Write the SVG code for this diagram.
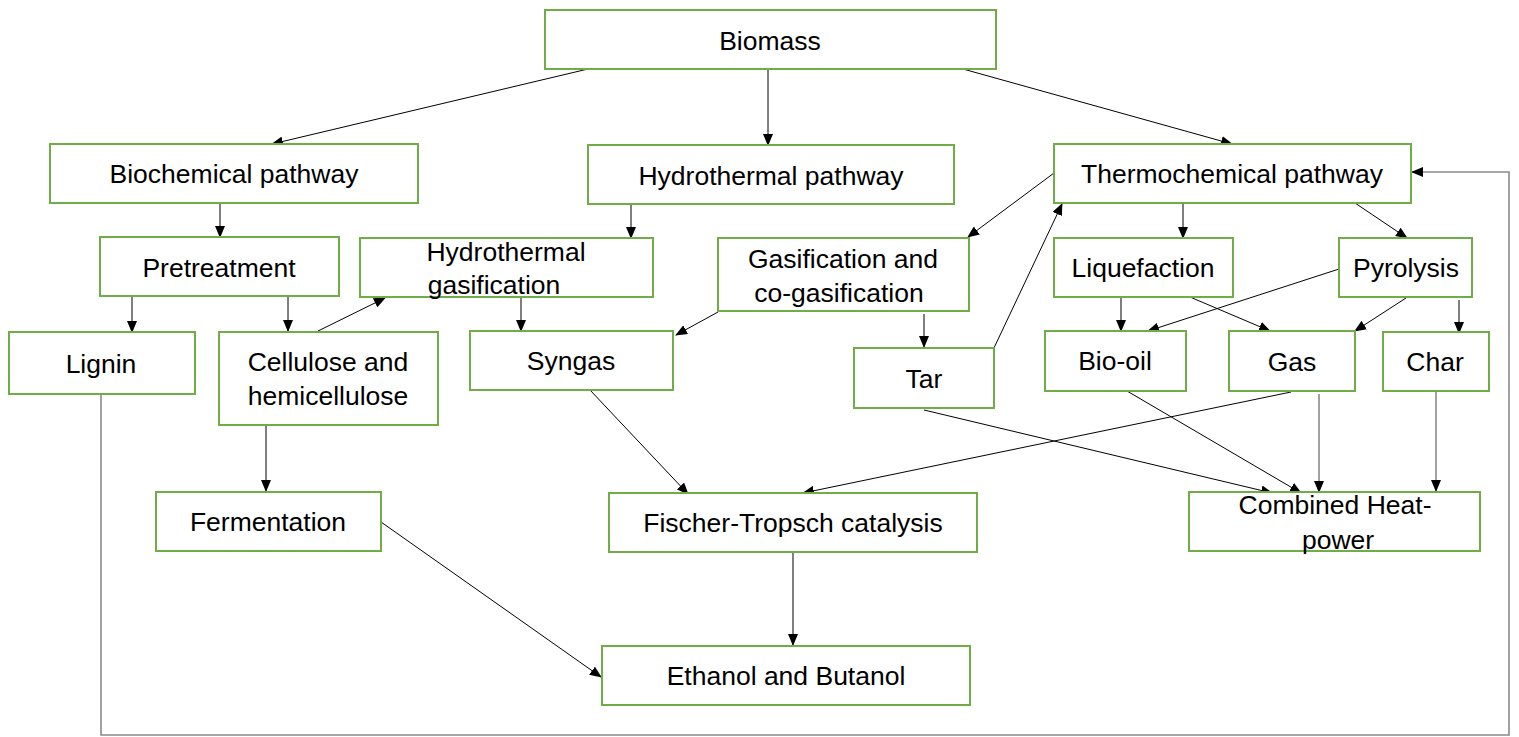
<svg xmlns="http://www.w3.org/2000/svg" width="1519" height="737" viewBox="0 0 1519 737">
<style>
.box{fill:#fff;stroke:#70AD47;stroke-width:2}
.t{font-family:"Liberation Sans",Arial,sans-serif;font-size:26.5px;fill:#000;text-anchor:middle;dominant-baseline:central}
.c{fill:none;stroke:#000;stroke-width:1;marker-end:url(#ah)}
.g{fill:none;stroke:#8a8a8a;stroke-width:1.6;marker-end:url(#ah)}
</style>
<defs>
<marker id="ah" markerUnits="userSpaceOnUse" markerWidth="12" markerHeight="10" refX="11" refY="5" orient="auto">
<path d="M0,0 L12,5 L0,10 Z" fill="#000"/>
</marker>
</defs>
<rect width="1519" height="737" fill="#fff"/>
<g id="connectors">
<line class="c" x1="588" y1="69" x2="272" y2="144"/>
<line class="c" x1="768" y1="69" x2="768" y2="145"/>
<line class="c" x1="963" y1="69" x2="1232" y2="144"/>
<line class="c" x1="220" y1="203" x2="220" y2="237"/>
<line class="c" x1="132" y1="297" x2="132" y2="332"/>
<line class="c" x1="288" y1="296" x2="288" y2="331"/>
<line class="c" x1="318" y1="331" x2="385" y2="298"/>
<line class="c" x1="631" y1="204" x2="631" y2="238"/>
<line class="c" x1="521" y1="298" x2="521" y2="331"/>
<line class="c" x1="718" y1="312" x2="676" y2="335"/>
<line class="c" x1="1054" y1="173" x2="968" y2="237"/>
<line class="c" x1="924" y1="314" x2="924" y2="347"/>
<line class="c" x1="993" y1="350" x2="1062" y2="204"/>
<line class="c" x1="1183" y1="203" x2="1183" y2="238"/>
<line class="c" x1="1355" y1="203" x2="1407" y2="238"/>
<line class="c" x1="1121" y1="298" x2="1121" y2="331"/>
<line class="c" x1="1190" y1="297" x2="1270" y2="331"/>
<line class="c" x1="1339" y1="269" x2="1148" y2="331"/>
<line class="c" x1="1406" y1="298" x2="1355" y2="331"/>
<line class="c" x1="1459" y1="300" x2="1459" y2="333"/>
<line class="c" x1="590" y1="390" x2="688" y2="494"/>
<line class="c" x1="1291" y1="392" x2="803" y2="493"/>
<line class="c" x1="924" y1="410" x2="1272" y2="493"/>
<line class="c" x1="1127" y1="391" x2="1301" y2="493"/>
<line class="g" x1="1319" y1="394" x2="1319" y2="492"/>
<line class="g" x1="1436" y1="392" x2="1436" y2="491"/>
<line class="c" x1="266" y1="426" x2="266" y2="491"/>
<line class="c" x1="381" y1="522" x2="601" y2="677"/>
<line class="c" x1="793" y1="553" x2="793" y2="645"/>
<polyline class="g" points="101,394 101,735 1509,735 1509,172 1412,172"/>
</g>
<g id="n-biomass"><rect class="box" x="545" y="10" width="451" height="59"/><text class="t" x="770" y="41">Biomass</text></g>
<g id="n-biochemical"><rect class="box" x="50" y="144" width="368" height="59"/><text class="t" x="234" y="174">Biochemical pathway</text></g>
<g id="n-hydrothermal"><rect class="box" x="588" y="145" width="366" height="59"/><text class="t" x="771" y="176">Hydrothermal pathway</text></g>
<g id="n-thermochemical"><rect class="box" x="1054" y="144" width="357" height="59"/><text class="t" x="1232" y="174">Thermochemical pathway</text></g>
<g id="n-pretreatment"><rect class="box" x="100" y="237" width="239" height="59"/><text class="t" x="219" y="268">Pretreatment</text></g>
<g id="n-hydrogasification"><rect class="box" x="360" y="238" width="293" height="59"/><text class="t" x="506" y="252">Hydrothermal</text><text class="t" x="494" y="285">gasification</text></g>
<g id="n-gasification"><rect class="box" x="718" y="238" width="251" height="73"/><text class="t" x="843" y="259">Gasification and</text><text class="t" x="839" y="293">co-gasification</text></g>
<g id="n-liquefaction"><rect class="box" x="1054" y="238" width="179" height="59"/><text class="t" x="1143" y="268">Liquefaction</text></g>
<g id="n-pyrolysis"><rect class="box" x="1339" y="238" width="133" height="59"/><text class="t" x="1406" y="268">Pyrolysis</text></g>
<g id="n-lignin"><rect class="box" x="9" y="332" width="186" height="62"/><text class="t" x="101" y="364">Lignin</text></g>
<g id="n-cellulose"><rect class="box" x="219" y="332" width="219" height="93"/><text class="t" x="328" y="362">Cellulose and</text><text class="t" x="328" y="396">hemicellulose</text></g>
<g id="n-syngas"><rect class="box" x="470" y="331" width="203" height="59"/><text class="t" x="571" y="361">Syngas</text></g>
<g id="n-tar"><rect class="box" x="854" y="348" width="140" height="60"/><text class="t" x="924" y="379">Tar</text></g>
<g id="n-biooil"><rect class="box" x="1045" y="331" width="141" height="60"/><text class="t" x="1115" y="361">Bio-oil</text></g>
<g id="n-gas"><rect class="box" x="1229" y="331" width="126" height="60"/><text class="t" x="1292" y="362">Gas</text></g>
<g id="n-char"><rect class="box" x="1383" y="332" width="106" height="59"/><text class="t" x="1435" y="362">Char</text></g>
<g id="n-fermentation"><rect class="box" x="156" y="492" width="225" height="59"/><text class="t" x="268" y="522">Fermentation</text></g>
<g id="n-ft"><rect class="box" x="609" y="493" width="368" height="59"/><text class="t" x="793" y="523">Fischer-Tropsch catalysis</text></g>
<g id="n-chp"><rect class="box" x="1189" y="492" width="291" height="59"/><text class="t" x="1335" y="505">Combined Heat-</text><text class="t" x="1338" y="540">power</text></g>
<g id="n-ethanol"><rect class="box" x="602" y="646" width="368" height="59"/><text class="t" x="786" y="676">Ethanol and Butanol</text></g>
</svg>
